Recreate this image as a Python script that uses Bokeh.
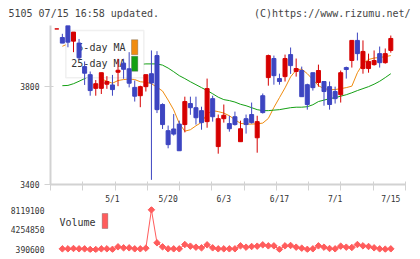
import numpy as np
from bokeh.plotting import figure
from bokeh.layouts import column
from bokeh.models import ColumnDataSource, Range1d, FixedTicker, Label, BoxAnnotation
from bokeh.core.properties import value
from bokeh.embed import file_html
from bokeh.resources import INLINE

nan = np.nan

# Daily prices (trading-day index 0..60)
open_p = [4036, 4001, 4050, 3986, 3978, 3882, 3849, 3793, 3793, 3810,
          3807, 3859, 3896, 3873, 3797, 3763, 3800, 3853, 3927, 3727,
          3620, 3627, 3647, 3645, 3731, 3714, 3702, 3657, 3751, 3555,
          3669, 3649, 3677, 3575, 3669, 3686, 3591, 3763, 3837, 3915,
          3833, 3841, 3931, 3862, 3866, 3808, 3857, 3817, 3821, 3800,
          3780, 3767, 3878, 3907, 3989, 3874, 3874, 3890, 3935, 3898,
          3948]
high_p = [4036, 4016, 4050, 4023, 3995, 3903, 3862, 3827, 3857, 3843,
          3848, 3914, 3914, 3941, 3825, 3804, 3849, 3948, 3945, 3732,
          3641, 3688, 3661, 3759, 3759, 3759, 3718, 3833, 3763, 3686,
          3727, 3681, 3698, 3661, 3686, 3735, 3681, 3772, 3931, 3927,
          3853, 3931, 3960, 3915, 3882, 3812, 3857, 3890, 3821, 3821,
          3800, 3866, 3882, 3989, 4021, 3989, 3935, 3948, 3964, 3956,
          4009]
low_p = [4036, 3978, 3961, 3941, 3909, 3807, 3763, 3763, 3770, 3791,
         3763, 3802, 3832, 3797, 3739, 3716, 3780, 3419, 3692, 3627,
         3548, 3600, 3538, 3613, 3685, 3645, 3624, 3632, 3657, 3526,
         3653, 3616, 3641, 3575, 3608, 3649, 3530, 3690, 3804, 3808,
         3808, 3821, 3852, 3841, 3759, 3706, 3784, 3800, 3722, 3706,
         3731, 3735, 3833, 3878, 3907, 3853, 3857, 3886, 3878, 3894,
         3939]
close_p = [4036, 3978, 3982, 4023, 3918, 3855, 3784, 3812, 3857, 3821,
           3788, 3867, 3871, 3814, 3761, 3800, 3849, 3815, 3706, 3645,
           3563, 3606, 3538, 3739, 3714, 3673, 3653, 3792, 3677, 3669,
           3683, 3628, 3645, 3628, 3645, 3653, 3657, 3694, 3927, 3845,
           3821, 3915, 3886, 3874, 3759, 3727, 3796, 3866, 3780, 3727,
           3751, 3857, 3870, 3989, 3935, 3944, 3903, 3907, 3898, 3935,
           3997]

ma5 = [nan, 3965, 3975, 3985, 3975, 3951, 3912, 3878, 3832, 3822,
       3814, 3825, 3829, 3831, 3829, 3820, 3818, 3812, 3798, 3782,
       3745, 3705, 3650, 3618, 3624, 3640, 3654, 3688, 3702, 3698,
       3692, 3681, 3665, 3650, 3647, 3647, 3648, 3651, 3670, 3715,
       3755, 3795, 3840, 3868, 3872, 3853, 3829, 3804, 3792, 3788,
       3788, 3792, 3796, 3802, 3857, 3894, 3911, 3917, 3919, 3923,
       3927]
ma25 = [nan, 3804, 3805, 3812, 3822, 3833, 3845, 3855, 3862, 3868,
        3873, 3878, 3882, 3886, 3889, 3891, 3893, 3893, 3893, 3888,
        3876, 3861, 3845, 3833, 3820, 3808, 3796, 3784, 3771, 3757,
        3747, 3743, 3737, 3728, 3722, 3714, 3706, 3702, 3702, 3704,
        3706, 3710, 3714, 3716, 3716, 3718, 3726, 3739, 3745, 3751,
        3755, 3761, 3767, 3775, 3784, 3792, 3800, 3810, 3822, 3837,
        3853]

volume = [nan, 520000, 520000, 585000, 520000, 520000, 400000, 390600, 520000, 520000,
          420000, 910000, 715000, 715000, 520000, 520000, 650000, 8119100, 1690000, 910000,
          520000, 520000, 520000, 1360000, 1040000, 845000, 715000, 1300000, 715000, 520000,
          520000, 520000, 520000, 1100000, 845000, 975000, 1040000, 1300000, 1100000, 1100000,
          420000, 1100000, 1170000, 845000, 650000, 420000, 520000, 1100000, 845000, 585000,
          520000, 1040000, 845000, 780000, 1360000, 1100000, 975000, 715000, 520000, 455000,
          520000]

date_labels = {10: "5/1", 20: "5/20", 30: "6/3", 40: "6/17", 50: "7/1", 60: "7/15"}
price_ticks = [3400, 3800]
header_left = "5105 07/15 16:58 updated."
header_right = "(C)https://www.rizumu.net/"

# Styling
UP_C = "#d60000"
DOWN_C = "#3d45c1"
MA5_C = "#f08c10"
MA25_C = "#14a014"
VOL_C = "#ff5c5c"
AXIS_C = "#d2d2d2"
TEXT_C = "#333333"
MONO = "DejaVu Sans Mono"

W = 420
HEAD_H = 25
FRAME_L, FRAME_R = 50, 405
P_TOP, P_BOT = 25, 184          # price frame, page px
X_AXIS_H = 22                   # room under the price frame for the date labels
PRICE_TOTAL = (P_BOT - P_TOP) + X_AXIS_H
VOL_H = 259 - HEAD_H - PRICE_TOTAL
V_TOP, V_BOT = P_BOT + X_AXIS_H, 252   # volume frame, page px

X_LO, X_HI = -1.13, 62.64
Y_LO, Y_HI = 3400, 4050

n = len(close_p)
idx = np.arange(n)

vol_arr = np.array(volume, dtype=float)
v_min, v_max = np.nanmin(vol_arr), np.nanmax(vol_arr)
v_per_px = (v_max - v_min) / 39.7
V_LO = v_min - (V_BOT - 249) * v_per_px
V_HI = v_max + (209.3 - V_TOP) * v_per_px


def px_x(px):
    return X_LO + (px - FRAME_L) * (X_HI - X_LO) / (FRAME_R - FRAME_L)


def px_y(py):
    return Y_HI - (py - P_TOP) * (Y_HI - Y_LO) / (P_BOT - P_TOP)


def px_vy(py):
    return V_HI - (py - V_TOP) * (V_HI - V_LO) / (V_BOT - V_TOP)


# ---------------- header strip ----------------
h = figure(width=W, height=HEAD_H, output_backend="svg", toolbar_location=None,
           x_range=Range1d(0, W), y_range=Range1d(HEAD_H, 0),
           x_axis_location=None, y_axis_location=None,
           min_border=0, min_border_left=0, min_border_right=0,
           min_border_top=0, min_border_bottom=0)
h.frame_align = False
h.outline_line_color = None
h.grid.visible = False
h.text(x=[8], y=[12.5], text=[header_left], text_align="left", text_baseline="middle",
       text_font=value(MONO), text_font_size="10px", text_color="#444444")
h.text(x=[410], y=[12.5], text=[header_right], text_align="right", text_baseline="middle",
       text_font=value(MONO), text_font_size="10px", text_color="#444444")

# ---------------- price panel ----------------
p = figure(width=W, height=PRICE_TOTAL, output_backend="svg", toolbar_location=None,
           x_range=Range1d(X_LO, X_HI), y_range=Range1d(Y_LO, Y_HI),
           min_border_left=FRAME_L, min_border_right=W - FRAME_R,
           min_border_top=0, min_border_bottom=X_AXIS_H)
p.outline_line_color = None
p.grid.visible = False
p.background_fill_color = "white"
p.border_fill_color = "white"

r5 = p.line(idx, ma5, color=MA5_C, line_width=1)
r25 = p.line(idx, ma25, color=MA25_C, line_width=1)
r5.level = "image"
r25.level = "image"

# legend sits under the candles but over the averages
p.add_layout(BoxAnnotation(left=px_x(65.3), right=px_x(143.3), top=px_y(30), bottom=px_y(77.3),
                           fill_color="white", fill_alpha=1.0, line_color="#cccccc",
                           line_width=1.5, level="underlay"))
for label, col, cy in (("5-day MA", MA5_C, 46.7), ("25-day MA", MA25_C, 63.3)):
    p.add_layout(Label(x=px_x(125), y=px_y(cy), text=label, text_align="right",
                       text_baseline="middle", text_font=MONO, text_font_size="10px",
                       text_color=TEXT_C, level="underlay"))
    p.add_layout(BoxAnnotation(left=px_x(131), right=px_x(137.3), top=px_y(cy - 7.5),
                               bottom=px_y(cy + 7.5), fill_color=col, fill_alpha=1.0,
                               line_color="#444444", line_width=1, level="underlay"))

colors = [UP_C if c >= o else DOWN_C for o, c in zip(open_p, close_p)]
src = ColumnDataSource(dict(x=idx, h=high_p, l=low_p,
                            top=np.maximum(open_p, close_p),
                            bottom=np.minimum(open_p, close_p), color=colors))
p.segment(x0="x", y0="h", x1="x", y1="l", color="color", line_width=1, source=src)
p.vbar(x="x", width=0.72, top="top", bottom="bottom", fill_color="color",
       line_color="color", line_width=1, source=src)

xa = p.xaxis[0]
xa.ticker = FixedTicker(ticks=list(date_labels.keys()),
                        minor_ticks=list(np.linspace(X_LO, X_HI, 12)))
xa.major_label_overrides = {k: v for k, v in date_labels.items()}
xa.major_tick_line_color = None
xa.major_tick_out = 0
xa.major_tick_in = 0
xa.minor_tick_line_color = AXIS_C
xa.minor_tick_in = 3
xa.minor_tick_out = 6
xa.axis_line_color = AXIS_C
xa.axis_line_width = 2
xa.major_label_standoff = 4
xa.major_label_text_font = MONO
xa.major_label_text_font_size = "8px"
xa.major_label_text_color = TEXT_C

ya = p.yaxis[0]
ya.ticker = FixedTicker(ticks=price_ticks, minor_ticks=[])
ya.major_tick_line_color = AXIS_C
ya.major_tick_in = 3
ya.major_tick_out = 6
ya.axis_line_color = AXIS_C
ya.axis_line_width = 2
ya.major_label_standoff = 5
ya.major_label_text_font = MONO
ya.major_label_text_font_size = "8px"
ya.major_label_text_color = TEXT_C

# ---------------- volume panel ----------------
v = figure(width=W, height=VOL_H, output_backend="svg", toolbar_location=None,
           x_range=p.x_range, y_range=Range1d(V_LO, V_HI),
           x_axis_location=None,
           min_border_left=FRAME_L, min_border_right=W - FRAME_R,
           min_border_top=0, min_border_bottom=259 - V_BOT)
v.outline_line_color = None
v.grid.visible = False
v.background_fill_color = "white"
v.border_fill_color = "white"

v.line(idx, volume, color=VOL_C, line_width=1)
v.scatter(idx, volume, marker="square", angle=np.pi / 4, size=4.6,
          fill_color=VOL_C, line_color=VOL_C)

vol_ticks = [float(v_min), float((v_min + v_max) / 2), float(v_max)]
vya = v.yaxis[0]
vya.ticker = FixedTicker(ticks=vol_ticks, minor_ticks=[])
vya.major_label_overrides = {t: str(int(round(t))) for t in vol_ticks}
vya.axis_line_color = None
vya.major_tick_line_color = None
vya.minor_tick_line_color = None
vya.major_tick_in = 0
vya.major_tick_out = 0
vya.major_label_standoff = 6
vya.major_label_text_font = MONO
vya.major_label_text_font_size = "8px"
vya.major_label_text_color = TEXT_C

v.add_layout(Label(x=px_x(59), y=px_vy(222), text="Volume", text_align="left",
                   text_baseline="middle", text_font=MONO, text_font_size="10px",
                   text_color=TEXT_C))
v.add_layout(BoxAnnotation(left=px_x(101.7), right=px_x(107.3), top=px_vy(213),
                           bottom=px_vy(228), fill_color=VOL_C, fill_alpha=1.0,
                           line_color="#444444", line_width=1))

layout = column(h, p, v, spacing=0)
open("out.html", "w").write(file_html(layout, INLINE))
